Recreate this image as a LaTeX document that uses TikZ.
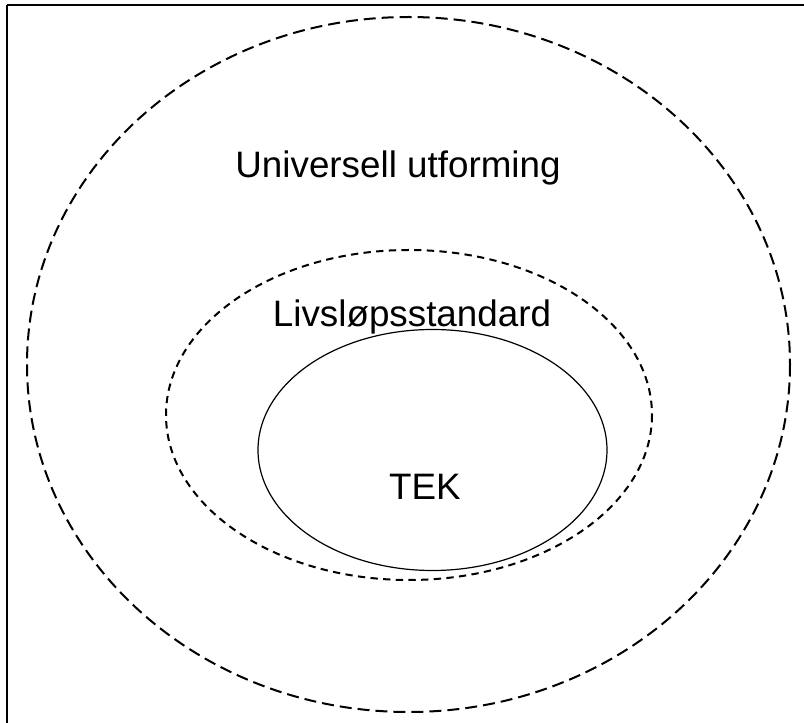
\documentclass[tikz,border=0pt]{standalone}
\usepackage{fontspec}
\setmainfont{Liberation Sans}
\usepackage{tikz}

\begin{document}
\begin{tikzpicture}[x=0.75pt,y=0.75pt,yscale=-1,xscale=1]
	\useasboundingbox (0,0) rectangle (804,723);
	\clip (0,0) rectangle (804,723);
	
	%Shape: Rectangle [id:frame] 
	\draw [line width=1.5] (6.5,5.5) -- (6.5,740) (6.5,5.5) -- (820,5.5) ;
	%Shape: Ellipse [id:outer] 
	\draw [line width=1.5, dash pattern={on 9pt off 4.5pt}] (408.5,364.5) ellipse [x radius=381.5, y radius=347.5] ;
	%Shape: Ellipse [id:middle] 
	\draw [line width=1.5, dash pattern={on 5.5pt off 4pt}] (409,415) ellipse [x radius=243, y radius=165] ;
	%Shape: Ellipse [id:tek] 
	\draw [line width=0.9] (432.5,450) ellipse [x radius=174.5, y radius=120.5] ;
	
	% Text Node
	\draw (398,178) node [anchor=base][inner sep=0.75pt] (universell) {\fontsize{27.6}{33}\selectfont Universell utforming};
	% Text Node
	\draw (412,327) node [anchor=base][inner sep=0.75pt] (livslop) {\fontsize{27.6}{33}\selectfont Livsløpsstandard};
	% Text Node
	\draw (425,500) node [anchor=base][inner sep=0.75pt] (tek) {\fontsize{27.6}{33}\selectfont TEK};
	
\end{tikzpicture}
\end{document}
